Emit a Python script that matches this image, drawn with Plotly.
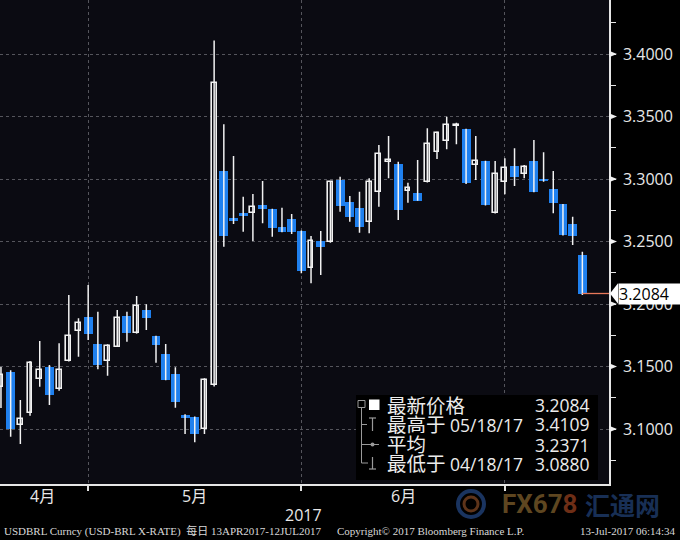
import plotly.graph_objects as go

dates = ["2017-04-13","2017-04-17","2017-04-18","2017-04-19","2017-04-20","2017-04-24","2017-04-25","2017-04-26","2017-04-27","2017-04-28",
         "2017-05-02","2017-05-03","2017-05-04","2017-05-05","2017-05-08","2017-05-09","2017-05-10","2017-05-11","2017-05-12","2017-05-15",
         "2017-05-16","2017-05-17","2017-05-18","2017-05-19","2017-05-22","2017-05-23","2017-05-24","2017-05-25","2017-05-26","2017-05-29",
         "2017-05-30","2017-05-31","2017-06-01","2017-06-02","2017-06-05","2017-06-06","2017-06-07","2017-06-08","2017-06-09","2017-06-12",
         "2017-06-13","2017-06-14","2017-06-16","2017-06-19","2017-06-20","2017-06-21","2017-06-22","2017-06-23","2017-06-26","2017-06-27",
         "2017-06-28","2017-06-29","2017-06-30","2017-07-03","2017-07-04","2017-07-05","2017-07-06","2017-07-07","2017-07-10","2017-07-11",
         "2017-07-12"]
open_ = [3.1338,3.1456,3.1030,3.1130,3.1402,3.1498,3.1318,3.1542,3.1786,3.1898,
         3.1680,3.1546,3.1658,3.1904,3.1766,3.1952,3.1744,3.1600,3.1440,3.1112,
         3.1098,3.0998,3.1350,3.3064,3.2686,3.2730,3.2726,3.2792,3.2760,3.2618,
         3.2680,3.2586,3.2286,3.2506,3.2498,3.2992,3.2814,3.2766,3.2654,3.2894,
         3.3138,3.3120,3.2906,3.2890,3.2974,3.3218,3.3304,3.3424,3.3400,3.3110,
         3.3144,3.2726,3.2978,3.3104,3.3038,3.3144,3.2994,3.2920,3.2798,3.2638,
         3.2392]
high = [3.1496,3.1470,3.1232,3.1544,3.1704,3.1512,3.1686,3.2072,3.1886,3.2152,
        3.1938,3.1678,3.1952,3.1938,3.2064,3.1998,3.1746,3.1680,3.1494,3.1118,
        3.1100,3.1406,3.4109,3.3438,3.3184,3.2858,3.2880,3.2984,3.2762,3.2770,
        3.2720,3.2588,3.2544,3.2584,3.2985,3.3018,3.2864,3.2898,3.3006,3.3272,
        3.3344,3.3138,3.2970,3.3152,3.3406,3.3378,3.3498,3.3450,3.3402,3.3344,
        3.3146,3.3144,3.3166,3.3246,3.3112,3.3312,3.3214,3.3064,3.2800,3.2698,
        3.2418]
low = [3.1168,3.0938,3.0880,3.1106,3.1338,3.1192,3.1307,3.1540,3.1578,3.1712,
       3.1478,3.1426,3.1655,3.1698,3.1763,3.1792,3.1530,3.1390,3.1170,3.0960,
       3.0895,3.0960,3.1340,3.2458,3.2640,3.2578,3.2504,3.2646,3.2538,3.2574,
       3.2560,3.2246,3.2166,3.2232,3.2490,3.2738,3.2658,3.2570,3.2566,3.2778,
       3.3006,3.2672,3.2810,3.2826,3.2972,3.3160,3.3238,3.3278,3.2960,3.2992,
       3.2788,3.2724,3.2878,3.2944,3.3006,3.2894,3.2978,3.2726,3.2548,3.2472,
       3.2072]
close = [3.1432,3.0998,3.1078,3.1526,3.1472,3.1272,3.1472,3.1744,3.1846,3.1760,
         3.1514,3.1664,3.1886,3.1770,3.1984,3.1890,3.1672,3.1392,3.1218,3.1090,
         3.0960,3.1392,3.3766,3.2546,3.2664,3.2706,3.2778,3.2758,3.2606,3.2574,
         3.2578,3.2266,3.2506,3.2458,3.2974,3.2786,3.2698,3.2618,3.2974,3.3198,
         3.3152,3.2752,3.2928,3.2826,3.3278,3.3366,3.3432,3.3434,3.2970,3.3144,
         3.2792,3.3038,3.3086,3.3018,3.3098,3.2894,3.2984,3.2810,3.2552,3.2544,
         3.2084]

month_ends = ["2017-04-28", "2017-05-31", "2017-06-30"]
month_labels = ["4月", "5月", "6月"]
year_label = "2017"
ytick_vals = [3.10, 3.15, 3.20, 3.25, 3.30, 3.35, 3.40]
legend_names = ["最新价格", "最高于", "平均", "最低于"]
legend_dates = ["", "05/18/17", "", "04/18/17"]
legend_values = ["3.2084", "3.4109", "3.2371", "3.0880"]

BLUE = "#1f80ee"
PLOT_BG = "#0b0b12"
W_PX, H_PX = 609, 484  # plot area size in px


def px(xp):
    return xp / W_PX


def py(yp):
    return (H_PX - yp) / H_PX


fig = go.Figure()

# wicks
wx, wy = [], []
for d, lo, hi in zip(dates, low, high):
    wx += [d, d, None]
    wy += [lo, hi, None]
fig.add_trace(go.Scatter(x=wx, y=wy, mode="lines", line=dict(color="#f2f2f2", width=1.5),
                         hoverinfo="skip", showlegend=False))

up_x, up_b, up_h, dn_x, dn_b, dn_h = [], [], [], [], [], []
for d, o, c in zip(dates, open_, close):
    if c >= o:
        up_x.append(d); up_b.append(o); up_h.append(max(c - o, 0.0006))
    else:
        dn_x.append(d); dn_b.append(c); dn_h.append(max(o - c, 0.0008))

fig.add_trace(go.Bar(x=dn_x, y=dn_h, base=dn_b, width=0.92, marker=dict(color=BLUE, line=dict(width=0)),
                     showlegend=False))
fig.add_trace(go.Bar(x=up_x, y=up_h, base=up_b, width=0.5,
                     marker=dict(color=PLOT_BG, line=dict(color="#f2f2f2", width=1.6)), showlegend=False))

yr = [3.4 - 430 * 0.0008, 3.4 + 54 * 0.0008]

fig.update_layout(
    width=680, height=540,
    margin=dict(l=0, r=71, t=0, b=56),
    paper_bgcolor="#000000", plot_bgcolor=PLOT_BG,
    barmode="overlay", bargap=0,
    showlegend=False,
    font=dict(family="Open Sans, Noto Sans CJK SC", color="#e8e8e8"),
    xaxis=dict(type="category", categoryorder="array", categoryarray=dates,
               range=[-0.1, 62.75], tickmode="array", tickvals=month_ends, showticklabels=False,
               ticks="outside", ticklen=5, tickcolor="#e0e0e0", tickwidth=1.5,
               showgrid=True, gridcolor="#55555c", griddash="3px,3px", gridwidth=1,
               showline=True, linecolor="#e6e6e6", linewidth=1.5, zeroline=False),
    yaxis=dict(side="right", range=yr, tickmode="array", tickvals=ytick_vals,
               tickformat=".4f", tickfont=dict(size=16, color="#e8e8e8"),
               ticks="outside", ticklen=9, tickcolor="rgba(0,0,0,0)",
               minor=dict(ticks="outside", ticklen=5, tickcolor="#e6e6e6", tickwidth=1.2, dtick=0.025, tick0=3.075, showgrid=False),
               showgrid=True, gridcolor="#55555c", griddash="3px,3px", gridwidth=1,
               showline=True, linecolor="#e6e6e6", linewidth=1.5, zeroline=False),
)

shapes = []
# tick triangles on right axis
for v in ytick_vals:
    shapes.append(dict(type="path", xref="paper", yref="y",
                       path=f"M 1.0,{v + 0.0026} L {1 + 8 / W_PX},{v} L 1.0,{v - 0.0026} Z",
                       fillcolor="#f0f0f0", line=dict(width=0)))
# last price line
shapes.append(dict(type="line", xref="x", yref="y", x0=len(dates) - 1, x1=62.75,
                   y0=close[-1], y1=close[-1], line=dict(color="#e8785a", width=1.3)))
# last price pointer
shapes.append(dict(type="path", xref="paper", yref="y",
                   path=f"M {1 + 1 / W_PX},{close[-1]} L {1 + 9 / W_PX},{close[-1] + 0.0082} L {1 + 9 / W_PX},{close[-1] - 0.0082} Z",
                   fillcolor="#ffffff", line=dict(width=0)))
# legend background box
shapes.append(dict(type="rect", xref="paper", yref="paper", x0=px(356), x1=px(598), y0=py(480), y1=py(395),
                   fillcolor="#000000", line=dict(width=0), layer="above"))
# legend tree
tree_col = "#9a9a9a"
shapes.append(dict(type="rect", xref="paper", yref="paper", x0=px(358), x1=px(365), y0=py(407.5), y1=py(400.5),
                   line=dict(color=tree_col, width=1), layer="above"))
shapes.append(dict(type="line", xref="paper", yref="paper", x0=px(361.5), x1=px(361.5), y0=py(407.5), y1=py(463),
                   line=dict(color=tree_col, width=1), layer="above"))
shapes.append(dict(type="line", xref="paper", yref="paper", x0=px(361.5), x1=px(368), y0=py(463), y1=py(463),
                   line=dict(color=tree_col, width=1), layer="above"))
for yy in (424.5, 444.5):
    shapes.append(dict(type="line", xref="paper", yref="paper", x0=px(361.5), x1=px(367), y0=py(yy), y1=py(yy),
                       line=dict(color=tree_col, width=1), layer="above"))
shapes.append(dict(type="line", xref="paper", yref="paper", x0=px(366), x1=px(379), y0=py(444.5), y1=py(444.5),
                   line=dict(color=tree_col, width=1), layer="above"))
shapes.append(dict(type="circle", xref="paper", yref="paper", x0=px(370.5), x1=px(374.5), y0=py(446.5), y1=py(442.5),
                   fillcolor=tree_col, line=dict(width=0), layer="above"))
# T icon (high)
shapes.append(dict(type="line", xref="paper", yref="paper", x0=px(369), x1=px(376), y0=py(418), y1=py(418),
                   line=dict(color=tree_col, width=1.2), layer="above"))
shapes.append(dict(type="line", xref="paper", yref="paper", x0=px(372.5), x1=px(372.5), y0=py(418), y1=py(431),
                   line=dict(color=tree_col, width=1.2), layer="above"))
# ⊥ icon (low)
shapes.append(dict(type="line", xref="paper", yref="paper", x0=px(372.5), x1=px(372.5), y0=py(457), y1=py(469),
                   line=dict(color=tree_col, width=1.2), layer="above"))
shapes.append(dict(type="line", xref="paper", yref="paper", x0=px(369), x1=px(376), y0=py(469), y1=py(469),
                   line=dict(color=tree_col, width=1.2), layer="above"))
# white square for last price
shapes.append(dict(type="rect", xref="paper", yref="paper", x0=px(369), x1=px(379.5), y0=py(410), y1=py(399.5),
                   fillcolor="#ffffff", line=dict(width=0), layer="above"))
# watermark logo ring
shapes.append(dict(type="circle", xref="paper", yref="paper", x0=px(458), x1=px(484), y0=py(517), y1=py(491),
                   line=dict(color="#1a3460", width=4)))
shapes.append(dict(type="circle", xref="paper", yref="paper", x0=px(464), x1=px(478), y0=py(511), y1=py(497),
                   line=dict(color="#5e341a", width=3)))
fig.update_layout(shapes=shapes)

ann = []
# last price label
ann.append(dict(xref="paper", yref="y", x=1 + 9 / W_PX, y=close[-1], xanchor="left", yanchor="middle",
                text=f"{close[-1]:.4f}", showarrow=False, bgcolor="#ffffff", width=62, height=20, align="left",
                borderpad=0, font=dict(size=16, color="#000000")))
# month labels
for lab, xp in zip(month_labels, (42, 194, 403)):
    ann.append(dict(xref="paper", yref="paper", x=px(xp), y=py(496), text=lab, showarrow=False,
                    xanchor="center", yanchor="middle", font=dict(size=16, color="#e8e8e8")))
ann.append(dict(xref="paper", yref="paper", x=px(303), y=py(515), text=year_label, showarrow=False,
                xanchor="center", yanchor="middle", font=dict(size=16, color="#e8e8e8")))
# legend text
row_y = [405, 424.5, 444.5, 463.5]
for name, dt, val, yy in zip(legend_names, legend_dates, legend_values, row_y):
    txt = f"<span style='font-size:19.5px'>{name}</span>"
    if dt:
        txt += f" {dt}"
    ann.append(dict(xref="paper", yref="paper", x=px(385), y=py(yy), text=txt, showarrow=False,
                    xanchor="left", yanchor="middle", font=dict(size=17.5, color="#ececec")))
    ann.append(dict(xref="paper", yref="paper", x=px(592), y=py(yy), text=val, showarrow=False,
                    xanchor="right", yanchor="middle", font=dict(size=17.5, color="#ececec")))
# watermark
ann.append(dict(xref="paper", yref="paper", x=px(500), y=py(504),
                text="<b><span style='color:#5e4620'>FX67</span><span style='color:#6e2e16'>8</span></b>",
                showarrow=False, xanchor="left", yanchor="middle",
                font=dict(family="Roboto, Arial", size=26, color="#5e4620")))
ann.append(dict(xref="paper", yref="paper", x=px(583), y=py(504), text="<b>汇通网</b>", showarrow=False,
                xanchor="left", yanchor="middle", font=dict(family="Noto Sans CJK SC", size=25, color="#182f55")))
# footer
foot_font = dict(family="Liberation Serif, Noto Sans CJK SC", size=11, color="#d8d8d8")
ann.append(dict(xref="paper", yref="paper", x=px(2), y=py(531), text="USDBRL Curncy (USD-BRL X-RATE)  每日 13APR2017-12JUL2017",
                showarrow=False, xanchor="left", yanchor="middle", font=foot_font))
ann.append(dict(xref="paper", yref="paper", x=px(335), y=py(531), text="Copyright© 2017 Bloomberg Finance L.P.",
                showarrow=False, xanchor="left", yanchor="middle", font=foot_font))
ann.append(dict(xref="paper", yref="paper", x=px(678), y=py(531), text="13-Jul-2017 06:14:34",
                showarrow=False, xanchor="right", yanchor="middle", font=foot_font))
fig.update_layout(annotations=ann)

fig.write_html("out.html", config={"displayModeBar": False},
               post_script="document.body.style.margin='0';document.body.style.padding='0';document.body.style.background='#000';")
